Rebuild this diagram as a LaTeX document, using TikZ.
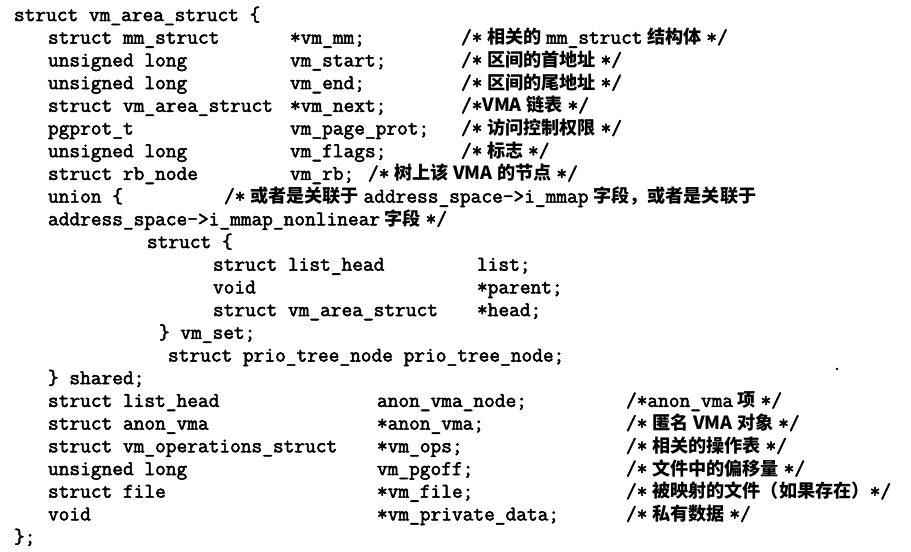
\documentclass[tikz,border=0pt]{standalone}
\usepackage{fontspec}
\newfontfamily\codef{Latin Modern Mono}[FakeBold=2.5]
\newfontfamily\cjkf{Noto Sans CJK SC}
\newcommand\zh[1]{{\cjkf\fontsize{13.6pt}{16pt}\selectfont\bfseries #1}}
\newcommand\gp{\hspace{3.5pt}}
\tikzset{
  code/.style={anchor=base west, inner sep=0pt, outer sep=0pt,
    font=\fontsize{15.6pt}{18pt}\selectfont\codef\bfseries},
}
\begin{document}
\begin{tikzpicture}[x=0.75pt,y=-0.75pt]
\useasboundingbox (0,0) rectangle (911,552);
% line 1
\node[code] (l1) at (14,21) {struct vm\_area\_struct \{};
% line 2
\node[code] (l2a) at (48,43.7) {struct mm\_struct};
\node[code] (l2b) at (290,43.7) {*vm\_mm;};
\node[code] (l2c) at (461,43.7) {/*\gp\zh{相关的}\gp mm\_struct\gp\zh{结构体}\gp*/};
% line 3
\node[code] (l3a) at (48,66.4) {unsigned long};
\node[code] (l3b) at (290,66.4) {vm\_start;};
\node[code] (l3c) at (461,66.4) {/*\gp\zh{区间的首地址}\gp*/};
% line 4
\node[code] (l4a) at (48,89.1) {unsigned long};
\node[code] (l4b) at (290,89.1) {vm\_end;};
\node[code] (l4c) at (461,89.1) {/*\gp\zh{区间的尾地址}\gp*/};
% line 5
\node[code] (l5a) at (48,111.8) {struct vm\_area\_struct};
\node[code] (l5b) at (290,111.8) {*vm\_next;};
\node[code] (l5c) at (461,111.8) {/*\zh{VMA}\gp\zh{链表}\gp*/};
% line 6
\node[code] (l6a) at (48,134.5) {pgprot\_t};
\node[code] (l6b) at (290,134.5) {vm\_page\_prot;};
\node[code] (l6c) at (461,134.5) {/*\gp\zh{访问控制权限}\gp*/};
% line 7
\node[code] (l7a) at (48,157.2) {unsigned long};
\node[code] (l7b) at (290,157.2) {vm\_flags;};
\node[code] (l7c) at (461,157.2) {/*\gp\zh{标志}\gp*/};
% line 8
\node[code] (l8a) at (48,179.9) {struct rb\_node};
\node[code] (l8b) at (290,179.9) {vm\_rb;};
\node[code] (l8c) at (368,179.9) {/*\gp\zh{树上该}\gp\zh{VMA}\gp\zh{的节点}\gp*/};
% line 9
\node[code] (l9a) at (48,202.6) {union \{};
\node[code] (l9c) at (224,202.6) {/*\gp\zh{或者是关联于}\gp address\_space->i\_mmap\gp\zh{字段，或者是关联于}};
% line 10
\node[code] (l10) at (48,225.3) {address\_space->i\_mmap\_nonlinear\gp\zh{字段}\gp*/};
% line 11
\node[code] (l11) at (147,248) {struct \{};
% line 12-14
\node[code] (l12a) at (213,270.7) {struct list\_head};
\node[code] (l12b) at (477,270.7) {list;};
\node[code] (l13a) at (213,293.4) {void};
\node[code] (l13b) at (477,293.4) {*parent;};
\node[code] (l14a) at (213,316.1) {struct vm\_area\_struct};
\node[code] (l14b) at (477,316.1) {*head;};
% line 15
\node[code] (l15) at (159,338.8) {\} vm\_set;};
% line 16
\node[code] (l16) at (168,361.5) {struct prio\_tree\_node prio\_tree\_node;};
% line 17
\node[code] (l17) at (48,384.2) {\} shared;};
% line 18
\node[code] (l18a) at (48,406.9) {struct list\_head};
\node[code] (l18b) at (377,406.9) {anon\_vma\_node;};
\node[code] (l18c) at (626,406.9) {/*anon\_vma\gp\zh{项}\gp*/};
% line 19
\node[code] (l19a) at (48,429.6) {struct anon\_vma};
\node[code] (l19b) at (377,429.6) {*anon\_vma;};
\node[code] (l19c) at (626,429.6) {/*\gp\zh{匿名}\gp\zh{VMA}\gp\zh{对象}\gp*/};
% line 20
\node[code] (l20a) at (48,452.3) {struct vm\_operations\_struct};
\node[code] (l20b) at (377,452.3) {*vm\_ops;};
\node[code] (l20c) at (626,452.3) {/*\gp\zh{相关的操作表}\gp*/};
% line 21
\node[code] (l21a) at (48,475) {unsigned long};
\node[code] (l21b) at (377,475) {vm\_pgoff;};
\node[code] (l21c) at (626,475) {/*\gp\zh{文件中的偏移量}\gp*/};
% line 22
\node[code] (l22a) at (48,497.7) {struct file};
\node[code] (l22b) at (377,497.7) {*vm\_file;};
\node[code] (l22c) at (626,497.7) {/*\gp\zh{被映射的文件（如果存在）}*/};
% line 23
\node[code] (l23a) at (48,520.4) {void};
\node[code] (l23b) at (377,520.4) {*vm\_private\_data;};
\node[code] (l23c) at (626,520.4) {/*\gp\zh{私有数据}\gp*/};
% line 24
\node[code] (l24) at (14,543.1) {\};};
% speck
\fill (837,369) circle (1pt);
\end{tikzpicture}
\end{document}
